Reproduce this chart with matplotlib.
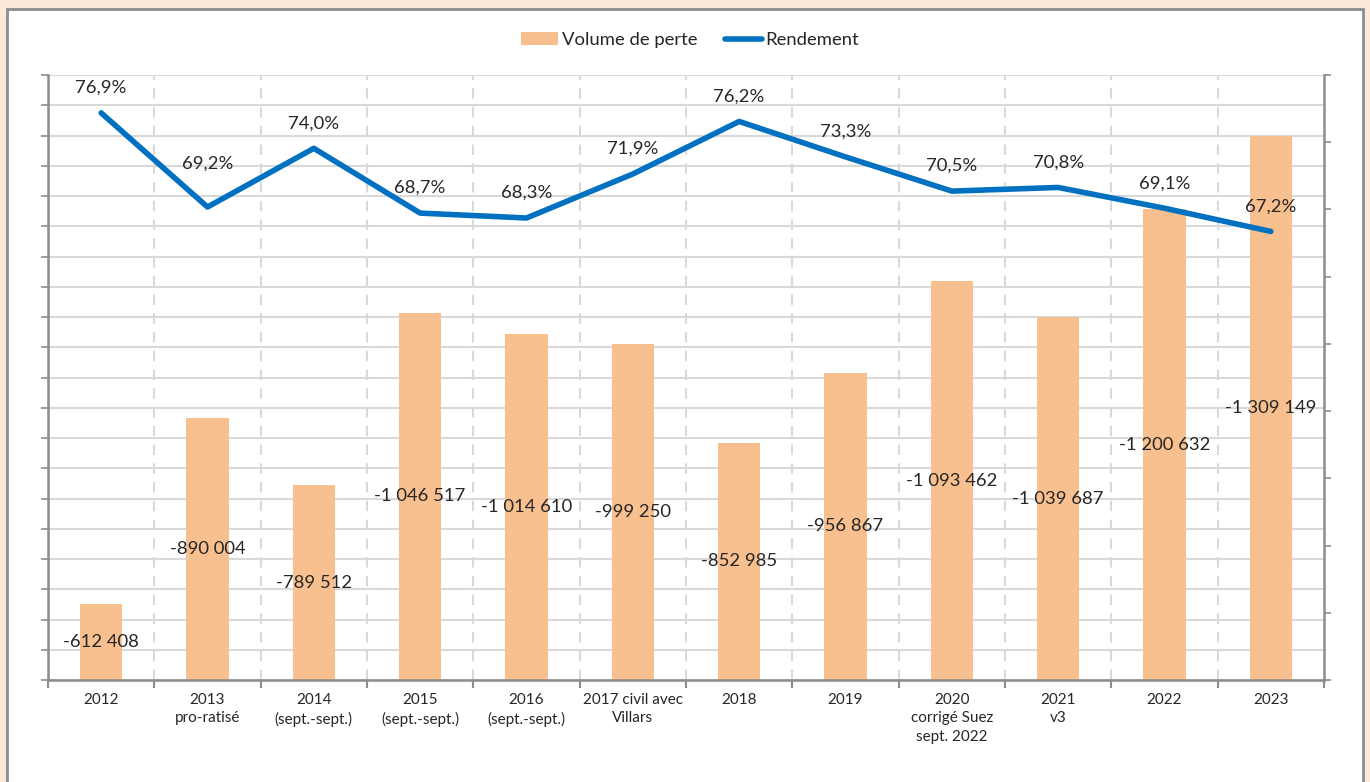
import numpy as np
import matplotlib.pyplot as plt
from matplotlib.patches import Rectangle
from matplotlib.lines import Line2D
from matplotlib.patches import Patch

plt.rcParams['font.family'] = ['Lato', 'DejaVu Sans']

annees = ['2012', '2013\npro-ratisé', '2014\n(sept.-sept.)', '2015\n(sept.-sept.)',
          '2016\n(sept.-sept.)', '2017 civil avec\nVillars', '2018', '2019',
          '2020\ncorrigé Suez\nsept. 2022', '2021\nv3', '2022', '2023']
volume_perte = [612408, 890004, 789512, 1046517, 1014610, 999250,
                852985, 956867, 1093462, 1039687, 1200632, 1309149]
rendement = [76.9, 69.2, 74.0, 68.7, 68.3, 71.9, 76.2, 73.3, 70.5, 70.8, 69.1, 67.2]

bar_col = '#F9C08F'
line_col = '#0070C0'
grid_col = '#D9D9D9'
spine_col = '#8C8C8C'
txt_col = '#262626'

fig = plt.figure(figsize=(13.7, 7.82), dpi=100)
fig.patch.set_facecolor('#FDE9DA')
# white chart frame, behind the axes
fig.patches.append(Rectangle((7 / 1370, -0.05), 1356 / 1370, 1.05 - 9 / 782,
                             transform=fig.transFigure, facecolor='white',
                             edgecolor=spine_col, linewidth=2, zorder=-10))

ax = fig.add_axes([48 / 1370, 1 - 680 / 782, (1324 - 48) / 1370, (680 - 75) / 782])
ax.set_facecolor('none')
x = np.arange(len(annees))

ax.bar(x, volume_perte, width=0.4, color=bar_col, zorder=2)
ax.set_ylim(500000, 1400000)
ax.set_xlim(-0.5, len(annees) - 0.5)
ax.set_yticks(np.linspace(500000, 1400000, 21))
ax.set_yticklabels([])
ax.grid(axis='y', color=grid_col, linewidth=1.5, zorder=0)

# dashed vertical separators between categories
for b in np.arange(0.5, len(annees) - 0.5, 1):
    ax.axvline(b, color=grid_col, linewidth=1.5, linestyle=(0, (5, 4)), zorder=1)

ax.set_xticks(x)
ax.set_xticklabels(annees, fontsize=11, color=txt_col, linespacing=1.45)
ax.tick_params(axis='x', length=0, pad=9)
ax.set_xticks(np.arange(-0.5, len(annees), 1), minor=True)
ax.tick_params(axis='x', which='minor', length=6, width=1.5, color=spine_col, direction='out')
ax.tick_params(axis='y', length=5, width=1.2, color=spine_col, direction='out')

for s in ['left', 'bottom', 'right']:
    ax.spines[s].set_color(spine_col)
    ax.spines[s].set_linewidth(1.8)
ax.spines['top'].set_visible(False)

for xi, v in zip(x, volume_perte):
    lab = '-' + f'{v:,}'.replace(',', ' ')
    ax.text(xi, (500000 + v) / 2, lab, ha='center', va='center',
            fontsize=13.3, color=txt_col, zorder=5)

ax2 = ax.twinx()
ax2.plot(x, rendement, color=line_col, linewidth=4, solid_capstyle='round', zorder=4)
ax2.set_ylim(30.5, 80)
ax2.set_yticks(np.linspace(30.5, 80, 10))
ax2.set_yticklabels([])
ax2.tick_params(axis='y', length=5, width=1.2, color=spine_col, direction='out')
for s in ax2.spines.values():
    s.set_visible(False)

for xi, r in zip(x, rendement):
    off = 43 if xi == 1 else 25
    ax2.annotate(f'{r:.1f}%'.replace('.', ','), (xi, r), xytext=(0, off * 0.72),
                 textcoords='offset points', ha='center', va='center',
                 fontsize=13.3, color=txt_col)

handles = [Patch(facecolor=bar_col, edgecolor='none'),
           Line2D([0], [0], color=line_col, linewidth=4, solid_capstyle='round')]
fig.legend(handles, ['Volume de perte', 'Rendement'], loc='center',
           bbox_to_anchor=(690 / 1370, 1 - 40 / 782), ncol=2, frameon=False,
           fontsize=13.3, handlelength=2.0, handletextpad=0.2, columnspacing=1.5,
           labelcolor=txt_col)

fig.savefig('out.png', dpi=100, facecolor=fig.get_facecolor())
